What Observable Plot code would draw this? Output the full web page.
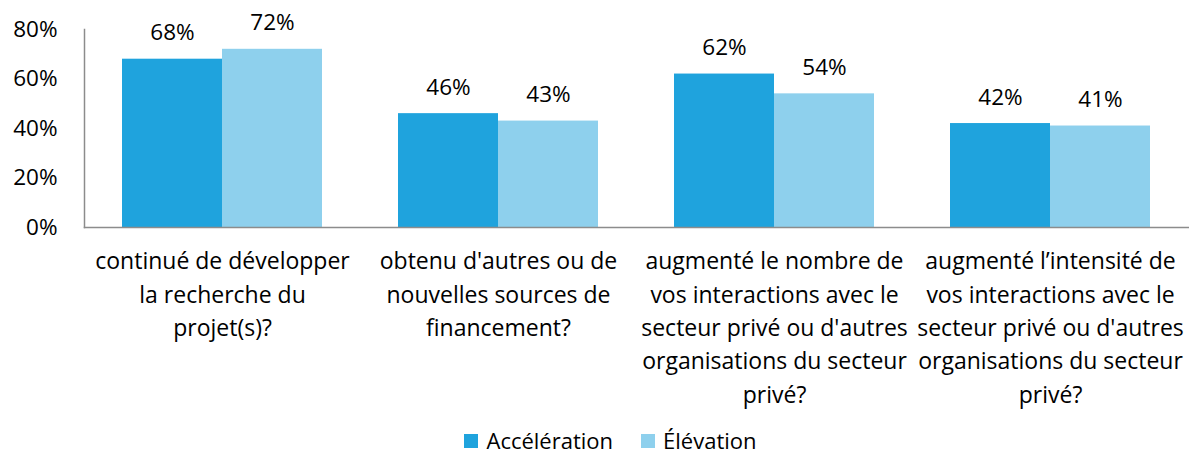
<!DOCTYPE html>
<html>
<head>
<meta charset="utf-8">
<script src="https://cdn.jsdelivr.net/npm/d3@7"></script>
<script src="https://cdn.jsdelivr.net/npm/@observablehq/plot@0.6"></script>
<style>
  body { margin: 0; background: #fff; font-family: "Open Sans", sans-serif; overflow: hidden; }
  #chart svg { display: block; }
  #legend { display: flex; justify-content: center; align-items: center; height: 31px; line-height: 31px; margin-top: 0; font-size: 22px; color: #000; padding-left: 32px; }
  #legend .item { display: flex; align-items: center; margin: 0 14px; }
  #legend .sw { width: 14px; height: 14px; margin-right: 8px; }
</style>
</head>
<body>
<div id="chart"></div>
<div id="legend"></div>
<script>
const categories = [
  "continué de développer\nla recherche du\nprojet(s)?",
  "obtenu d'autres ou de\nnouvelles sources de\nfinancement?",
  "augmenté le nombre de\nvos interactions avec le\nsecteur privé ou d'autres\norganisations du secteur\nprivé?",
  "augmenté l’intensité de\nvos interactions avec le\nsecteur privé ou d'autres\norganisations du secteur\nprivé?"
];
const series = ["Accélération", "Élévation"];
const acceleration = [0.68, 0.46, 0.62, 0.42];
const elevation = [0.72, 0.43, 0.54, 0.41];
const colors = ["#1FA3DD", "#8ED0ED"];
const yTicks = [0, 0.2, 0.4, 0.6, 0.8];

const data = [];
categories.forEach((c, i) => {
  data.push({cat: c, series: series[0], value: acceleration[i]});
  data.push({cat: c, series: series[1], value: elevation[i]});
});

const plot = Plot.plot({
  width: 1189,
  height: 425,
  marginLeft: 82,
  marginRight: 0,
  marginTop: 29,
  marginBottom: 198,
  style: {fontFamily: "Open Sans", fontSize: "22px", color: "#000", background: "#fff"},
  fx: {domain: categories, padding: 0, axis: null},
  x: {domain: series, paddingInner: 0, paddingOuter: 0.38, axis: null},
  y: {domain: [0, 0.8], axis: null},
  color: {domain: series, range: colors},
  marks: [
    Plot.barY(data, {fx: "cat", x: "series", y: "value", fill: "series"}),
    Plot.text(data, {fx: "cat", x: "series", y: "value", text: d => Math.round(d.value * 100) + "%", lineAnchor: "bottom", dy: -19, fontSize: 22.5, fill: "#000"}),
    Plot.axisY({ticks: yTicks, tickFormat: d => Math.round(d * 100) + "%", tickSize: 0, tickPadding: 27, fontSize: 22.5, anchor: "left", label: null}),
    Plot.axisFx({anchor: "bottom", tickSize: 0, tickPadding: 18, fontSize: 23, lineHeight: 1.45, lineWidth: Infinity, textOverflow: null, tickFormat: d => d, label: null}),
    Plot.frame({anchor: "left", facet: "super", stroke: "#8C8C8C", strokeWidth: 1.5}),
    Plot.frame({anchor: "bottom", facet: "super", stroke: "#8C8C8C", strokeWidth: 1.5})
  ]
});
document.getElementById("chart").appendChild(plot);

const legend = document.getElementById("legend");
series.forEach((s, i) => {
  const item = document.createElement("div");
  item.className = "item";
  const sw = document.createElement("div");
  sw.className = "sw";
  sw.style.background = colors[i];
  const label = document.createElement("span");
  label.textContent = s;
  item.appendChild(sw);
  item.appendChild(label);
  legend.appendChild(item);
});
</script>
</body>
</html>
